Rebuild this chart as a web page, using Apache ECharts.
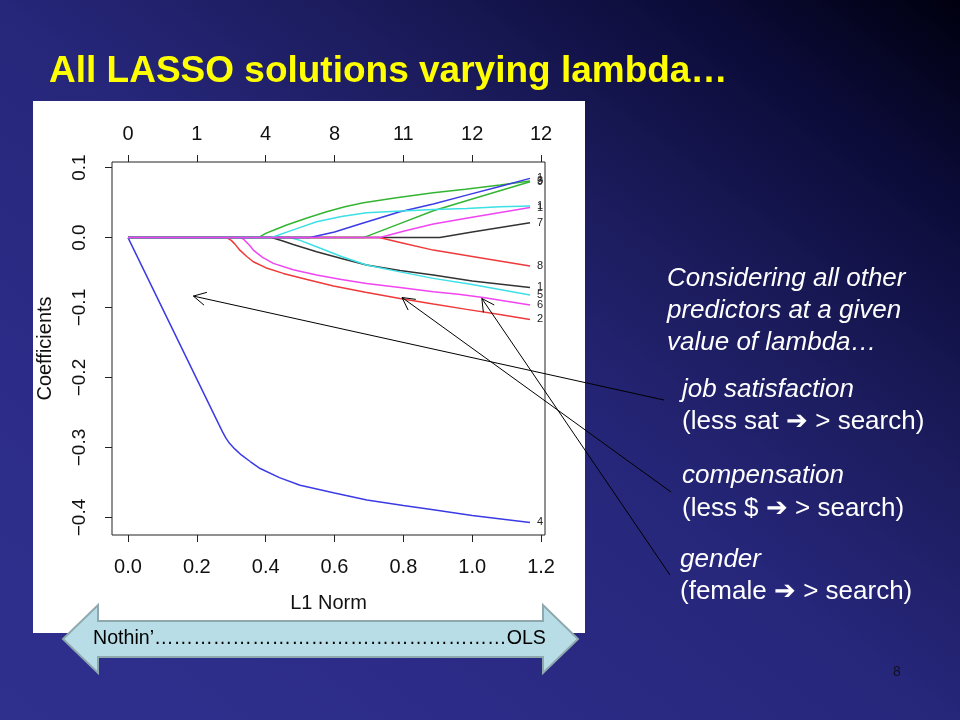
<!DOCTYPE html>
<html>
<head>
<meta charset="utf-8">
<script src="https://cdn.jsdelivr.net/npm/echarts@6.0.0/dist/echarts.min.js"></script>
<style>
  html, body { margin: 0; padding: 0; }
  #bg { position: absolute; left: 0; top: 0; width: 960px; height: 720px;
        background: linear-gradient(to bottom left, #00000f 0%, #0b0b38 14%, #1b1b5c 32%, #26267a 50%, #2c2c88 75%, #2f2f8e 100%); }
  #panel { position: absolute; left: 33px; top: 101px; width: 552px; height: 532px; background: #ffffff; }
  #chart { position: absolute; left: 0; top: 0; width: 960px; height: 720px; }
</style>
</head>
<body>
<div id="bg"></div>
<div id="panel"></div>
<div id="chart"></div>
<script>
// ---- axis ticks / labels ----
const xTicks = [0, 0.2, 0.4, 0.6, 0.8, 1.0, 1.2];
const topLabels = ['0', '1', '4', '8', '11', '12', '12'];
const yTicks = [-0.4, -0.3, -0.2, -0.1, 0.0, 0.1];

// ---- coefficient paths: [L1 norm, coefficient] ----
const var1 = [[0,0],[0.417,0],[0.45,-0.005],[0.48,-0.010],[0.548,-0.0202],[0.62,-0.030],[0.693,-0.0393],[0.79,-0.047],[0.887,-0.0536],[1.0,-0.062],[1.168,-0.0712]];
const var2 = [[0,0],[0.282,0],[0.29,-0.001],[0.30,-0.004],[0.31,-0.009],[0.325,-0.018],[0.345,-0.027],[0.364,-0.0345],[0.40,-0.043],[0.451,-0.0512],[0.52,-0.060],[0.597,-0.0693],[0.69,-0.078],[0.79,-0.0869],[0.887,-0.095],[0.984,-0.1026],[1.08,-0.110],[1.168,-0.1169]];
const var3 = [[0,0],[0.379,0],[0.39,0.003],[0.40,0.006],[0.43,0.012],[0.461,0.0179],[0.52,0.028],[0.577,0.037],[0.63,0.044],[0.684,0.0497],[0.78,0.057],[0.887,0.064],[0.98,0.069],[1.081,0.075],[1.168,0.081]];
const var4 = [[0,0],[0.265,-0.268],[0.275,-0.278],[0.285,-0.287],[0.295,-0.294],[0.31,-0.302],[0.33,-0.311],[0.355,-0.320],[0.384,-0.330],[0.44,-0.343],[0.5,-0.354],[0.6,-0.365],[0.694,-0.375],[0.8,-0.383],[0.887,-0.389],[1.0,-0.397],[1.168,-0.407]];
const var5 = [[0,0],[0.47,0],[0.50,-0.004],[0.548,-0.0131],[0.62,-0.027],[0.693,-0.0393],[0.79,-0.049],[0.887,-0.0583],[1.0,-0.067],[1.168,-0.0821]];
const var6 = [[0,0],[0.325,0],[0.335,-0.002],[0.345,-0.007],[0.355,-0.012],[0.364,-0.0179],[0.39,-0.028],[0.422,-0.0369],[0.48,-0.046],[0.548,-0.0536],[0.62,-0.060],[0.693,-0.0655],[0.79,-0.0715],[0.887,-0.0774],[0.96,-0.081],[1.032,-0.0855],[1.1,-0.091],[1.168,-0.0964]];
const var7 = [[0,0],[0.906,0],[1.0,0.008],[1.168,0.0211]];
const var8 = [[0,0],[0.73,0],[0.80,-0.008],[0.887,-0.0179],[1.0,-0.027],[1.168,-0.0407]];
const var9 = [[0,0],[0.684,0],[0.79,0.020],[0.887,0.0383],[1.0,0.055],[1.168,0.0797]];
const var10 = [[0,0],[0.529,0],[0.60,0.008],[0.674,0.0193],[0.79,0.037],[0.887,0.048],[0.984,0.0607],[1.08,0.073],[1.168,0.0846]];
const var11 = [[0,0],[0.417,0],[0.48,0.011],[0.548,0.0226],[0.62,0.030],[0.693,0.0354],[0.75,0.037],[0.887,0.040],[0.984,0.0417],[1.08,0.044],[1.168,0.045]];
const var12 = [[0,0],[0.732,0],[0.80,0.009],[0.887,0.0193],[1.0,0.029],[1.168,0.043]];

const paths = [var1, var2, var3, var4, var5, var6, var7, var8, var9, var10, var11, var12];
// labels as they appear at the clipped right edge
const endLabels = ['1','2','3','4','5','6','7','8','9','1','1','1'];
const palette = ['#333333', '#ee3a3a', '#33b533', '#3b3be6', '#3ce0e6', '#f045f0'];

const FONT = '"Liberation Sans", Arial, Helvetica, sans-serif';

const series = paths.map((d, i) => ({
  type: 'line',
  name: String(i + 1),
  data: d,
  showSymbol: false,
  symbol: 'none',
  smooth: false,
  lineStyle: { color: palette[i % 6], width: 1.5 },
  itemStyle: { color: palette[i % 6] },
  endLabel: { show: true, formatter: () => endLabels[i], distance: 7, fontSize: 11, color: '#222', fontFamily: FONT },
  emphasis: { disabled: true },
  silent: true
}));

const chart = echarts.init(document.getElementById('chart'), null, { renderer: 'canvas' });

const fmtY = v => (v < 0 ? '\u2212' : '') + Math.abs(v).toFixed(1);

chart.setOption({
  animation: false,
  backgroundColor: 'transparent',
  title: {
    text: 'All LASSO solutions varying lambda\u2026',
    left: 44, top: 48,
    textStyle: { color: '#ffff00', fontSize: 37, fontWeight: 'bold', fontFamily: FONT }
  },
  grid: { left: 112, top: 162, right: 415, bottom: 185, show: true, borderColor: '#222', borderWidth: 1, backgroundColor: 'transparent' },
  xAxis: [{
    type: 'value', position: 'bottom', min: -0.0465, max: 1.2115,
    axisLine: { show: false, onZero: false },
    splitLine: { show: false },
    axisTick: { show: true, length: 7, customValues: xTicks, lineStyle: { color: '#222' } },
    axisLabel: { customValues: xTicks, formatter: v => v.toFixed(1), fontSize: 20, color: '#111', margin: 22, fontFamily: FONT },
    name: 'L1 Norm', nameLocation: 'middle', nameGap: 58,
    nameTextStyle: { fontSize: 20, color: '#111', fontFamily: FONT }
  }, {
    type: 'value', position: 'top', min: -0.0465, max: 1.2115,
    axisLine: { show: false, onZero: false },
    splitLine: { show: false },
    axisTick: { show: true, length: 7, customValues: xTicks, lineStyle: { color: '#222' } },
    axisLabel: { customValues: xTicks, formatter: v => topLabels[Math.round(v / 0.2)], fontSize: 20, color: '#111', margin: 18, fontFamily: FONT }
  }],
  yAxis: {
    type: 'value', min: -0.425, max: 0.108,
    axisLine: { show: false, onZero: false },
    splitLine: { show: false },
    axisTick: { show: true, length: 7, customValues: yTicks, lineStyle: { color: '#222' } },
    axisLabel: { customValues: yTicks, formatter: fmtY, rotate: 90, fontSize: 19, color: '#111', margin: 23, fontFamily: FONT },
    name: 'Coefficients', nameLocation: 'middle', nameRotate: 90, nameGap: 57,
    nameTextStyle: { fontSize: 20, color: '#111', fontFamily: FONT }
  },
  series: series
});

// ---- annotations ----
const arrowTips = [[0.19, -0.0836], [0.796, -0.0856], [1.028, -0.087]];
const arrowTails = [[664, 400], [671, 492], [670, 575]];

const graphics = [];
arrowTips.forEach((t, i) => {
  const p = chart.convertToPixel({ xAxisIndex: 0, yAxisIndex: 0 }, t);
  const tail = arrowTails[i];
  graphics.push({ type: 'line', shape: { x1: tail[0], y1: tail[1], x2: p[0], y2: p[1] },
    style: { stroke: '#000', lineWidth: 1 }, z: 100 });
  const ang = Math.atan2(tail[1] - p[1], tail[0] - p[0]);
  const L = 14, a = 28 * Math.PI / 180;
  graphics.push({ type: 'polyline', shape: { points: [
      [p[0] + L * Math.cos(ang - a), p[1] + L * Math.sin(ang - a)],
      [p[0], p[1]],
      [p[0] + L * Math.cos(ang + a), p[1] + L * Math.sin(ang + a)] ] },
    style: { stroke: '#000', lineWidth: 1, fill: null }, z: 100 });
});

// double arrow at bottom
const cy = 639;
graphics.push({ type: 'polygon', z: 90, shape: { points: [
  [63, cy], [98, cy - 34], [98, cy - 18], [543, cy - 18], [543, cy - 34], [578, cy],
  [543, cy + 34], [543, cy + 18], [98, cy + 18], [98, cy + 34] ] },
  style: { fill: '#b8dde6', stroke: '#8ea8ae', lineWidth: 2 } });
graphics.push({ type: 'text', z: 95, x: 93, y: cy,
  style: { text: 'Nothin\u2019' + '\u2026'.repeat(18) + 'OLS', fill: '#000', font: '19.6px ' + FONT, verticalAlign: 'middle' } });

// right-hand text
const ARROW = '\u2794';
const txt = [
  { t: 'Considering all other', x: 667, y: 279, it: true },
  { t: 'predictors at a given', x: 667, y: 311, it: true },
  { t: 'value of lambda\u2026', x: 667, y: 343, it: true },
  { t: 'job satisfaction', x: 682, y: 390, it: true },
  { t: '(less sat ' + ARROW + ' > search)', x: 682, y: 422, it: false },
  { t: 'compensation', x: 682, y: 476, it: true },
  { t: '(less $ ' + ARROW + ' > search)', x: 682, y: 509, it: false },
  { t: 'gender', x: 680, y: 560, it: true },
  { t: '(female ' + ARROW + ' > search)', x: 680, y: 592, it: false }
];
txt.forEach(o => {
  graphics.push({ type: 'text', z: 95, x: o.x, y: o.y,
    style: { text: o.t, fill: '#ffffff', font: (o.it ? 'italic ' : '') + '26px ' + FONT, verticalAlign: 'middle' } });
});
graphics.push({ type: 'text', z: 95, x: 897, y: 672,
  style: { text: '8', fill: '#111122', font: '14px ' + FONT, align: 'center', verticalAlign: 'middle' } });

chart.setOption({ graphic: graphics });
</script>
</body>
</html>
